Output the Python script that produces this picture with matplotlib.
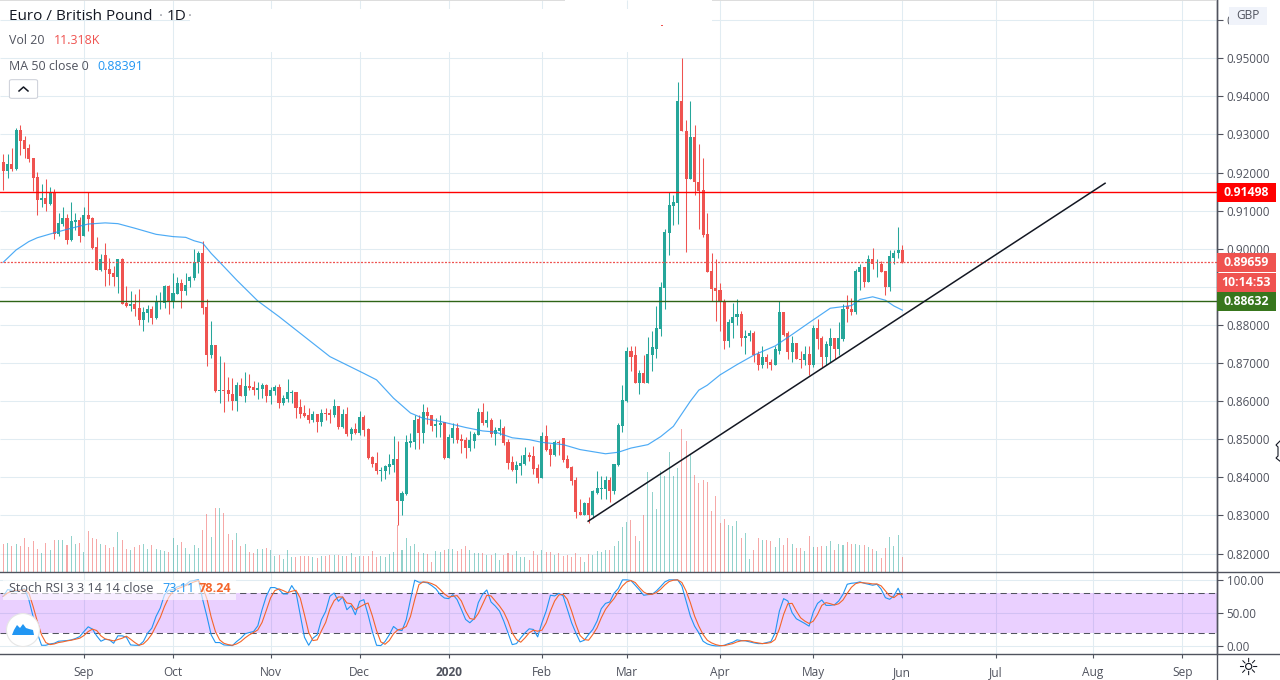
import matplotlib
matplotlib.use("Agg")
import matplotlib.pyplot as plt
from matplotlib.patches import Rectangle, Ellipse, FancyBboxPatch, Polygon
import numpy as np

plt.rcParams['font.family'] = ['Open Sans', 'DejaVu Sans']

# daily EUR/GBP candles, in 1/10000 of a pound
opens = [9228,9204,9222,9209,9311,9285,9264,9238,9188,9128,
         9133,9118,9149,9039,9065,9081,9023,9070,9076,9034,
         9089,9081,9005,8945,8984,8947,8937,8926,8973,8858,
         8850,8856,8845,8814,8832,8843,8819,8861,8858,8903,
         8863,8882,8911,8890,8916,8924,8966,8989,8848,8721,
         8748,8627,8630,8630,8619,8601,8643,8614,8640,8638,
         8630,8632,8643,8614,8627,8638,8596,8606,8622,8624,
         8585,8569,8564,8551,8567,8546,8569,8569,8564,8588,
         8533,8567,8514,8528,8517,8559,8528,8454,8439,8418,
         8418,8428,8433,8449,8339,8357,8491,8493,8554,8517,
         8572,8564,8535,8538,8546,8452,8504,8530,8501,8499,
         8478,8496,8512,8572,8543,8551,8514,8522,8530,8493,
         8441,8420,8431,8436,8459,8457,8425,8399,8509,8475,
         8459,8493,8504,8449,8428,8394,8310,8300,8334,8302,
         8360,8370,8370,8394,8365,8433,8535,8601,8733,8720,
         8648,8675,8648,8722,8738,8790,8898,9042,9113,9121,
         9389,9310,9184,9294,9176,9155,9040,8943,8898,8893,
         8864,8759,8804,8820,8830,8767,8770,8780,8723,8696,
         8715,8704,8694,8733,8833,8778,8728,8754,8712,8707,
         8723,8696,8791,8765,8715,8746,8765,8736,8762,8849,
         8843,8833,8938,8951,8914,8972,8959,8961,8943,8901,8977,8988,8996]
closes = [9204,9222,9209,9311,9283,9262,9235,9186,9128,9133,
          9118,9146,9039,9068,9081,9023,9073,9076,9034,9089,
          9078,9002,8945,8973,8945,8934,8926,8973,8856,8850,
          8856,8843,8814,8835,8843,8819,8863,8863,8903,8861,
          8884,8911,8890,8905,8926,8966,8989,8845,8721,8748,
          8627,8630,8627,8619,8601,8643,8614,8640,8635,8630,
          8635,8643,8614,8630,8638,8596,8609,8624,8624,8583,
          8567,8562,8551,8567,8546,8569,8567,8564,8588,8533,
          8567,8514,8528,8517,8559,8525,8452,8436,8418,8420,
          8431,8436,8449,8339,8360,8493,8496,8551,8517,8572,
          8562,8535,8541,8543,8452,8507,8530,8499,8496,8478,
          8499,8514,8572,8543,8551,8514,8525,8530,8491,8438,
          8420,8433,8438,8459,8454,8423,8399,8509,8473,8459,
          8493,8491,8446,8425,8391,8308,8300,8334,8302,8363,
          8373,8373,8394,8365,8436,8538,8603,8733,8716,8648,
          8675,8648,8725,8741,8793,8901,9045,9116,9124,9389,
          9308,9184,9294,9174,9153,9037,8940,8895,8890,8861,
          8759,8807,8822,8830,8767,8772,8780,8720,8696,8715,
          8702,8694,8736,8833,8775,8728,8754,8710,8707,8723,
          8696,8791,8762,8715,8749,8765,8736,8765,8843,8841,
          8833,8941,8951,8914,8972,8959,8961,8940,8901,8980,8990,8996,8966]
highs = [9248,9248,9264,9317,9324,9296,9275,9238,9201,9170,
         9183,9162,9157,9094,9110,9091,9123,9094,9083,9110,
         9149,9083,9031,8987,9015,8976,8955,8973,8976,8903,
         8890,8882,8895,8848,8853,8850,8879,8887,8905,8905,
         8937,8926,8921,8937,8929,9000,8994,9021,8869,8811,
         8748,8719,8703,8664,8661,8651,8661,8677,8672,8653,
         8651,8648,8645,8638,8643,8645,8617,8658,8630,8624,
         8606,8590,8583,8575,8567,8580,8583,8580,8606,8588,
         8580,8585,8533,8543,8575,8564,8530,8457,8467,8428,
         8433,8462,8509,8496,8365,8512,8517,8564,8564,8593,
         8585,8564,8556,8564,8546,8514,8543,8543,8514,8507,
         8522,8520,8583,8596,8575,8556,8533,8554,8535,8501,
         8457,8444,8459,8480,8467,8483,8436,8520,8538,8488,
         8499,8499,8504,8459,8431,8402,8344,8336,8349,8368,
         8418,8404,8404,8402,8436,8543,8643,8743,8746,8746,
         8683,8720,8769,8783,8851,8914,9053,9150,9142,9439,
         9502,9339,9389,9326,9276,9239,9095,8990,8974,8911,
         8867,8815,8857,8867,8838,8788,8786,8783,8731,8746,
         8725,8712,8746,8864,8835,8783,8770,8754,8731,8744,
         8744,8799,8815,8770,8757,8791,8767,8809,8854,8880,
         8872,8946,8959,8951,8985,9001,8972,8969,8943,8996,8996,9056,9009]
lows = [9154,9186,9204,9207,9246,9238,9228,9152,9089,9110,
        9099,9115,9026,9034,9060,9013,9021,9049,9018,9034,
        9047,9000,8945,8942,8903,8905,8903,8884,8856,8848,
        8837,8824,8801,8785,8808,8803,8816,8843,8845,8829,
        8845,8882,8845,8879,8900,8918,8937,8829,8693,8713,
        8624,8596,8572,8601,8577,8575,8614,8598,8630,8617,
        8606,8609,8598,8593,8617,8583,8590,8598,8596,8556,
        8556,8559,8543,8546,8520,8535,8551,8543,8559,8528,
        8530,8509,8499,8514,8512,8509,8449,8428,8410,8391,
        8397,8410,8415,8276,8300,8355,8480,8475,8475,8491,
        8541,8522,8507,8507,8449,8452,8491,8491,8465,8452,
        8470,8478,8512,8538,8533,8507,8486,8512,8486,8423,
        8418,8386,8407,8433,8444,8410,8386,8399,8470,8431,
        8457,8459,8441,8425,8381,8294,8300,8300,8281,8294,
        8357,8342,8342,8336,8357,8431,8520,8598,8679,8648,
        8619,8648,8648,8680,8714,8772,8843,8985,9063,9066,
        9308,8992,9184,9142,9053,9032,8940,8864,8811,8785,
        8738,8741,8765,8799,8744,8723,8757,8704,8681,8686,
        8686,8683,8694,8725,8772,8710,8704,8710,8686,8696,
        8670,8691,8736,8689,8696,8704,8710,8720,8757,8807,
        8825,8828,8893,8901,8912,8946,8927,8940,8880,8888,8961,8977,8964]

# volume, thousands
volumes = [21.6,22.4,20.0,21.6,20.0,26.3,19.2,23.9,17.6,14.5,
           22.4,16.8,24.7,24.7,24.7,20.8,27.9,21.6,22.4,15.3,
           31.8,26.3,25.5,21.6,20.8,18.4,19.2,31.0,24.7,17.6,
           16.8,19.2,20.8,21.6,17.6,20.8,17.6,16.8,16.0,15.3,
           26.3,20.8,23.1,18.4,13.7,20.8,18.4,32.6,45.2,27.1,
           50.0,50.0,46.0,29.5,24.7,30.2,20.0,21.6,15.3,14.5,
           17.6,17.6,18.4,16.8,12.1,12.9,9.7,16.8,11.3,11.3,
           12.1,12.1,12.1,11.3,10.5,12.1,12.1,12.9,12.9,12.9,
           12.1,12.1,14.5,11.3,12.1,12.1,12.1,16.0,11.3,12.1,
           11.3,13.7,15.3,36.6,16.8,26.3,20.0,21.6,15.3,14.5,
           13.7,7.4,16.0,15.3,16.8,17.6,17.6,16.0,17.6,20.0,
           16.8,14.5,14.5,14.5,12.9,12.9,14.5,8.9,12.9,14.5,
           12.9,16.0,11.3,11.3,8.9,16.0,12.9,16.8,15.3,15.3,
           12.9,14.5,12.1,12.9,11.3,14.5,11.3,7.4,13.7,12.9,
           16.0,15.3,16.8,16.8,20.0,23.9,35.0,38.9,40.5,27.9,
           23.9,44.4,78.4,62.6,49.2,79.2,75.2,94.2,75.2,81.5,
           112.3,102.8,91.8,76.0,69.7,72.1,70.5,47.6,59.4,38.1,
           41.3,36.6,35.8,39.7,26.3,30.2,9.7,16.8,26.3,24.7,
           24.7,23.9,19.2,26.3,20.8,26.3,21.6,18.4,18.4,16.0,
           27.9,19.2,19.2,20.0,20.0,23.9,16.8,21.6,20.8,23.1,
           21.6,21.6,20.8,20.8,19.2,17.6,16.0,10.5,18.4,27.1,
           20.0,28.7,11.318]

# stoch RSI lines
stoch_k = [75.3,85.4,84.3,82.8,85.4,86.4,70.2,44.9,19.7,1.5,
           1.5,3.5,4.5,7.6,8.1,8.6,9.6,11.6,14.6,22.2,
           29.3,25.8,15.7,7.6,10.6,9.6,4.5,15.7,15.7,13.6,
           2,1.5,1.5,7.1,19.7,27.3,44.9,57.6,77.8,84.3,
           85.4,89.4,91.4,92.9,98,99,100,70.2,44.9,17.2,
           5.6,5.6,2,1.5,1,7.1,12.1,18.7,20.7,22.2,
           30.8,55,75.3,88.4,88.4,85.4,78.8,78.8,91.4,81.3,
           47.5,13.6,1.5,12.1,17.2,39.9,52.5,75.3,80.3,67.7,
           74.2,55,61.1,47.5,67.7,70.2,47.5,22.2,1.5,1,
           7.1,17.2,29.8,24.7,23.7,39.9,70.2,99.5,96.5,96.5,
           95.5,91.4,86.4,77.8,72.7,71.7,77.8,70.2,55.6,40.4,
           35.4,41.4,65.7,78.3,84.8,66.7,60.6,53,37.9,20.2,
           2.5,4,12.6,20.2,26.3,25.3,14.1,35.4,53,76.8,
           75.8,79.8,75.8,55.6,35.4,20.2,6.6,9.1,17.7,25.3,
           37.9,56.6,64.6,66.7,79.8,86.9,100,100,99,91.9,
           84.8,76.8,77.8,78.3,83.3,89.9,97,100,100,100,
           90.9,68.2,45.5,30.3,20.2,7.6,3.5,1.5,0.5,0.5,
           1.5,4,6.1,9.6,8.6,8.1,6.6,5.1,4,4,
           5.6,7.1,20.2,53,71.7,68.2,50.5,41.4,37.9,34.3,
           30.3,51.5,64.6,69.7,61.6,61.6,62.6,68.2,78.3,93.4,
           94.9,95.5,97,94.9,93.4,91.9,93.4,85.9,73.2,70.7,
           75.8,87.4,73.11]
stoch_d = [75.3,80.3,82.8,84.3,84.3,85.4,80.3,60.1,37.4,17.2,
           5.6,2.5,3.5,5.6,6.6,8.1,9.1,10.6,12.1,16.2,
           22.2,25.8,23.7,15.7,11.1,9.6,8.1,10.1,12.1,15.2,
           10.6,5.6,1.5,3.5,9.6,18.2,30.8,43.4,60.1,73.7,
           82.8,86.4,88.9,91.4,94.4,97,99,89.4,71.2,43.9,
           22.2,9.6,4.5,2.5,1.5,3.5,7.1,12.6,17.2,20.7,
           24.7,35.9,54,72.7,83.8,86.4,83.8,80.8,82.8,84.3,
           72.7,47.5,20.7,8.6,9.6,23.2,35.9,56.1,68.7,74.2,
           74.2,65.2,64.1,55,59.1,62.6,65.2,46,23.7,6.6,
           3,8.6,18.7,24.7,26.3,29.8,44.9,70.2,92.9,97,
           96.5,94.4,91.4,85.4,78.8,74.2,75.3,76.3,68.2,53,
           41.9,40.4,49.5,63.1,76.8,75.8,68.2,60.6,51.5,37.9,
           20.2,10.1,6.1,12.6,20.2,24.2,22.7,24.2,35.4,53,
           68.2,77.3,78.3,70.7,53,32.8,16.2,10.1,9.1,17.7,
           27.8,42.9,55.6,64.1,71.7,81.8,90.9,97,99,96,
           88.4,81.8,78.3,78.3,80.8,85.9,92.4,97.5,99.5,100,
           96,83.3,65.7,45.5,30.3,17.7,9.1,5.1,2.5,1,
           1,2.5,4,6.6,8.1,8.6,8.1,6.1,5.1,4,
           4.5,5.6,10.1,26.3,48,64.1,64.6,53,42.9,37.9,
           34.3,37.9,48,61.6,65.7,64.1,62.1,64.1,69.7,79.8,
           88.9,94.4,96,95.5,94.9,93.9,93.9,90.9,83.3,75.8,
           73.2,78.3,78.24]

# MA 50, read at these bars
ma_bars = [0,3,6,8,12,16,20,24,27,31,36,40,43,45,47,49,51,55,60,65,69,
           77,85,88,92,96,99,103,109,113,116,120,124,127,132,136,142,145,148,
           152,155,158,160,162,164,166,169,173,177,182,186,190,195,200,202,205,208,210,212]
ma_values = [8965,8997,9019,9029,9042,9054,9065,9068,9066,9054,9038,9032,9030,9021,9015,8988,8965,8918,8863,8822,8787,
             8717,8673,8656,8608,8569,8555,8547,8531,8522,8519,8504,8499,8492,8486,8473,8462,8466,8477,
             8486,8507,8534,8567,8600,8629,8642,8669,8696,8721,8745,8775,8806,8844,8851,8867,8874,8865,8850,8839]

# months on the time axis, as bar numbers
month_bars = [19,40,63,84,105,127,147,169,191,212,234,257,278]
month_labels = ["Sep","Oct","Nov","Dec","2020","Feb","Mar","Apr","May","Jun","Jul","Aug","Sep"]

price_ticks = [0.82,0.83,0.84,0.85,0.86,0.87,0.88,0.89,0.90,0.91,0.92,0.93,0.94,0.95,0.96]
# 0.89 sits under the price tags and 0.96 mostly under the currency tag
price_labels = ["0.82000","0.83000","0.84000","0.85000","0.86000","0.87000","0.88000","",
                "0.90000","0.91000","0.92000","0.93000","0.94000","0.95000","0"]
stoch_ticks = [0,50,100]

# trend line, bar numbers and prices
trend_bars = [137.9,259.8]
trend_prices = [0.8285,0.9172]
resistance = 0.91498
support = 0.88632
last_close = 0.89659

W, H = 1280, 680
GREEN = "#26a69a"
RED = "#ef5350"
GRID = "#e1ecf2"
AXIS = "#50535e"
TEXT = "#50535e"
XLIM = (-0.8, 286.2)


def fx(x):
    return x / W


def fy(y):
    return 1 - y / H


def box(x0, y0, x1, y1, color, z=10, alpha=1.0):
    fig.add_artist(Rectangle((fx(x0), fy(y1)), (x1 - x0) / W, (y1 - y0) / H, transform=fig.transFigure,
                             facecolor=color, edgecolor="none", zorder=z, alpha=alpha))


def label(x, y, s, color=TEXT, size=9, weight="normal", ha="left", z=12, family=None):
    kw = {"family": family} if family else {}
    fig.text(fx(x), fy(y), s, color=color, fontsize=size, fontweight=weight, ha=ha, va="center", zorder=z, **kw)


fig = plt.figure(figsize=(W / 100, H / 100), dpi=100, facecolor="white")
ax = fig.add_axes([0, fy(571.5), 1217 / W, 571.5 / H])
ax_stoch = fig.add_axes([0, fy(653.5), 1217 / W, 82 / H])

o = np.array(opens) / 10000
c = np.array(closes) / 10000
h = np.array(highs) / 10000
l = np.array(lows) / 10000
bars = np.arange(len(o))
colors = [GREEN if cl >= op else RED for op, cl in zip(o, c)]

ax.set_xlim(XLIM)
ax.set_ylim(0.8153, 0.9653)

# volume and the grid sit behind the candles in the same pane
ax_vol = ax.twinx()
ax_vol.set_zorder(0.5)
ax.set_zorder(2)
ax.patch.set_visible(False)
ax_vol.set_xlim(XLIM)
ax_vol.set_ylim(0, 450.9)
ax_vol.hlines(price_ticks, XLIM[0], XLIM[1], color=GRID, linewidth=0.75, zorder=0, transform=ax.transData)
ax_vol.vlines(month_bars, 0, 450.9, color=GRID, linewidth=0.75, zorder=0)
ax_vol.bar(bars, volumes, width=0.24, color=colors, alpha=0.5, linewidth=0, zorder=1)
ax_vol.axis("off")

ax.vlines(bars, l, h, colors=colors, linewidth=0.75, zorder=3)
ax.bar(bars, np.abs(c - o), bottom=np.minimum(o, c), width=0.72, color=colors, linewidth=0, zorder=4, antialiased=False)
ax.plot(ma_bars, np.array(ma_values) / 10000, color="#2196f3", linewidth=0.85, alpha=0.8, zorder=5)

ax.axhline(resistance, color="#ff0000", linewidth=1.0, zorder=6)
ax.axhline(support, color="#2e6416", linewidth=1.0, zorder=6)
ax.axhline(last_close, color=RED, linewidth=0.9, linestyle=(0, (1.6, 1.2)), zorder=6)
ax.plot(trend_bars, trend_prices, color="#131722", linewidth=1.1, zorder=6)

ax.set_yticks(price_ticks)
ax.set_yticklabels(price_labels)
ax.set_xticks(month_bars)
ax.tick_params(axis="x", length=0, labelbottom=False)
ax.yaxis.tick_right()
ax.tick_params(axis="y", length=4, width=0.8, color=AXIS, labelcolor=TEXT, labelsize=8.4, pad=3)

ax_stoch.axhspan(20, 80, facecolor="#9915ff", alpha=0.2, linewidth=0, zorder=1)
ax_stoch.axhline(80, color=AXIS, linewidth=0.75, linestyle=(0, (6, 4)), zorder=2)
ax_stoch.axhline(20, color=AXIS, linewidth=0.75, linestyle=(0, (6, 4)), zorder=2)
ax_stoch.plot(bars, stoch_k, color="#2196f3", linewidth=0.8, zorder=3)
ax_stoch.plot(bars, stoch_d, color="#f4652a", linewidth=0.8, zorder=4)
ax_stoch.set_xlim(XLIM)
ax_stoch.set_ylim(-10.9, 112.6)
ax_stoch.set_yticks(stoch_ticks)
ax_stoch.set_yticklabels([f"{v:.2f}" for v in stoch_ticks])
ax_stoch.yaxis.tick_right()
ax_stoch.tick_params(axis="y", length=4, width=0.8, color=AXIS, labelcolor=TEXT, labelsize=8.4, pad=3)
ax_stoch.set_xticks(month_bars)
ax_stoch.set_xticklabels(month_labels)
ax_stoch.tick_params(axis="x", length=3, width=0.8, color=AXIS, labelcolor=TEXT, labelsize=8.6, pad=6)
for lbl in ax_stoch.get_xticklabels():
    if lbl.get_text() == "2020":
        lbl.set_fontweight("bold")
ax_stoch.grid(True, color=GRID, linewidth=0.75)
ax_stoch.set_axisbelow(True)

for a in (ax, ax_stoch):
    for side in ("top", "left", "bottom"):
        a.spines[side].set_visible(False)
    a.spines["right"].set_color(AXIS)
    a.spines["right"].set_linewidth(1)

# pane separators and the axis line down to the time row
fig.add_artist(plt.Line2D([0, 1], [fy(571.5)] * 2, color=AXIS, linewidth=1, transform=fig.transFigure, zorder=9))
fig.add_artist(plt.Line2D([0, 1], [fy(653.5)] * 2, color=AXIS, linewidth=1, transform=fig.transFigure, zorder=9))
fig.add_artist(plt.Line2D([fx(1217)] * 2, [0, 1], color=AXIS, linewidth=1, transform=fig.transFigure, zorder=9))

# blank strip left behind over the grid at the top of the chart
box(190, 9, 712, 52, "white", z=8)
box(0, 0, 565, 1.2, "#dddddd", z=8)
box(712, 0, 1216, 1.2, "#dddddd", z=8)
box(661, 24.5, 663, 26, RED, z=8)

# legend block
label(9, 17, "Euro / British Pound", color="#131722", size=11)
label(159, 17, "·", color="#9598a1", size=10.5)
label(167, 17, "1D", color="#131722", size=11)
label(188, 17, "·", color="#9598a1", size=10.5)
label(9, 41, "Vol 20", size=8.9)
label(54, 41, "11.318K", color=RED, size=8.9)
label(9, 66, "MA 50 close 0", size=8.9)
label(97, 66, "0.88391", color="#2196f3", size=8.9)
fig.add_artist(FancyBboxPatch((fx(12), fy(97)), 23 / W, 16 / H, transform=fig.transFigure,
                              boxstyle="round,pad=0.002,rounding_size=0.002", facecolor="white",
                              edgecolor="#d1d4dc", linewidth=0.8, zorder=11))
fig.add_artist(plt.Line2D([fx(19), fx(23.5), fx(28)], [fy(91), fy(87), fy(91)], color="#131722", linewidth=1.1,
                          transform=fig.transFigure, zorder=12))

# stoch legend and logo
box(3, 580, 236, 600, "white", z=8, alpha=0.6)
label(9, 589, "Stoch RSI 3 3 14 14 close", size=9.1)
label(162, 589, "73.11", color="#2196f3", size=9.1)
label(199, 589, "78.24", color="#f4652a", size=9.1, weight="bold")
fig.add_artist(Ellipse((fx(23), fy(630)), 33 / W, 33 / H, transform=fig.transFigure, facecolor="white",
                       edgecolor="#e6e6e6", linewidth=0.8, zorder=11))
cloud = [(12, 635), (14, 630), (17, 625), (20, 628), (23, 624), (26, 628), (29, 629), (33, 630), (34, 635)]
fig.add_artist(Polygon([(fx(x), fy(y)) for x, y in cloud], closed=True, transform=fig.transFigure,
                       facecolor="#2196f3", edgecolor="none", zorder=12))

# price tags on the axis
box(1217, 183, 1276, 201.5, "#ff0000")
label(1246, 192.3, "0.91498", color="white", size=8.8, weight="bold", ha="center")
box(1217, 253, 1276, 272, RED)
label(1246, 262.5, "0.89659", color="white", size=8.8, weight="bold", ha="center")
box(1217, 273, 1276, 291.5, RED)
label(1246, 282, "10:14:53", color="white", size=8.8, weight="bold", ha="center")
box(1217, 292, 1276, 311, "#38761d")
label(1246, 301.5, "0.88632", color="white", size=8.8, weight="bold", ha="center")
box(1229, 7, 1267, 25, "#f0f3fa")
label(1248, 15.5, "GBP", color="#50535e", size=8.6, ha="center")

# settings wheel and the cursor caught at the edge
label(1248, 668, "☼", color="#131722", size=17, ha="center", family="DejaVu Sans")
fig.add_artist(Polygon([(fx(x), fy(y)) for x, y in [(1281, 440), (1276, 445), (1278, 447), (1278, 456), (1276, 458), (1281, 462)]],
                       closed=False, transform=fig.transFigure, facecolor="white", edgecolor="#131722",
                       linewidth=0.8, zorder=12))

fig.savefig("out.png", dpi=100)
